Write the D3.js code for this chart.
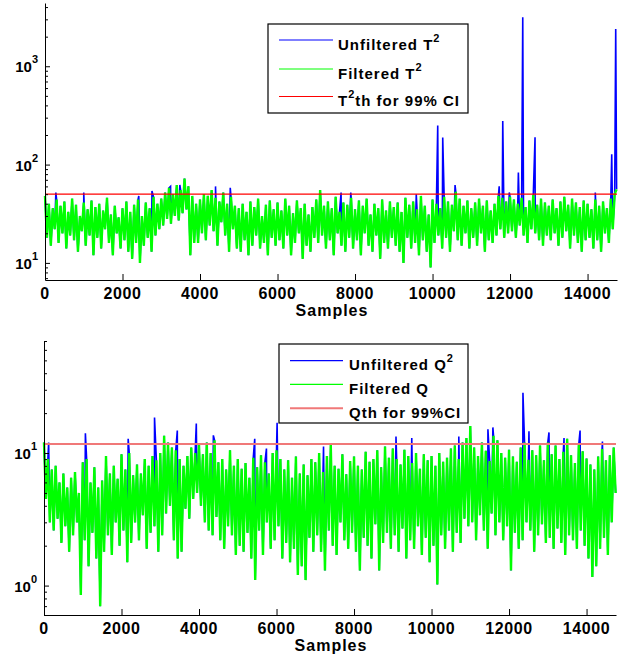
<!DOCTYPE html>
<html>
<head>
<meta charset="utf-8">
<script src="https://cdn.jsdelivr.net/npm/d3@7"></script>
<style>
body { margin: 0; background: #fff; }
text { font-family: "Liberation Sans", Arial, sans-serif; font-weight: bold; fill: #000; }
</style>
</head>
<body>
<svg id="fig" width="624" height="656"></svg>
<script>
// sample spacing of the typed values and length of the record
const step = 50;
const nSamples = 14760;
const xTicks = [0, 2000, 4000, 6000, 8000, 10000, 12000, 14000];

// T2 statistic, filtered (one value every 50 samples)
const t2Filtered = [
48,18,40,15,36,22,44,16,38,20,42,14,33,19,45,17,39,13,30,21,
41,15,35,19,43,12,37,18,40,14,34,22,46,16,31,12,38,20,29,14,
36,17,42,13,33,11,39,16,44,10,30,15,41,18,36,13,47,19,40,22,
45,24,52,28,58,25,50,30,62,27,55,32,72,35,60,12,48,16,40,16,
44,20,50,17,48,24,55,21,46,15,42,26,52,19,40,13,47,22,38,14,
36,13,40,17,33,12,42,15,37,19,45,14,30,16,39,12,43,18,35,15,
41,17,34,14,45,19,38,12,32,16,43,20,36,11,40,15,31,13,37,18,
44,16,55,19,38,14,42,17,36,12,47,20,33,15,41,13,39,18,46,14,
35,17,43,12,38,20,45,15,31,13,40,19,36,11,44,16,34,14,42,18,
37,15,41,13,33,10,46,18,39,14,42,16,35,12,48,17,38,13,31,9,
44,16,40,19,36,14,47,18,42,13,39,21,53,17,45,15,38,20,43,14,
36,18,41,15,45,20,38,13,43,17,34,16,40,19,48,22,46,18,42,20,
47,21,44,18,40,24,46,19,37,16,43,22,49,20,39,17,45,15,41,19,
38,17,44,20,36,15,42,18,47,21,39,14,45,19,41,16,37,13,43,17,
40,18,35,14,44,17,38,13,42,20,36,16,45,22,50,56
];
// where the unfiltered T2 leaves the filtered one: [sample, value]
const t2Spikes = [
[280,52],[1000,52],[2420,48],[2760,54],[3240,60],[3480,62],[4400,60],[4780,58],
[7640,52],[7890,52],[9580,50],[10134,250],[10263,188],[10581,62],[11720,60],
[11812,278],[11980,52],[12215,83],[12328,3150],[12645,190],[14200,52],
[14624,127],[14727,2400]
];
const t2Threshold = 50;
const t2Legend = ['Unfiltered T^2', 'Filtered T^2', 'T^2th for 99% CI'];

// Q statistic, filtered
const qFiltered = [
12,4.5,9,3,7.5,2.6,8,3.2,6,2.1,7,2.8,5.5,1.8,6.5,2.4,7.2,3,5,0.85,
8.5,2.2,9,1.4,6,2.5,7.8,1.6,5.5,0.7,6.2,1.8,9.5,2.4,7,1.7,8,3,6.4,2,
9.8,2.6,7.5,1.5,10,2.1,6.8,3,8.2,2.2,7,3.4,9,1.9,8,2.5,9.5,2.8,8.8,1.8,
10,2.4,13.5,3.5,12,4,11,2.2,10.5,1.6,9,1.8,8,3.8,9.5,3.2,11,4.5,10,5,
11.5,4,9.8,3,12,2.6,10,2.4,12.5,3.3,8.5,2.2,9,1.9,7.5,2.8,10.5,2.4,8,1.7,
9,2,7.6,1.8,8.4,2.5,6.5,1.6,9.2,1.1,7.8,2.6,9.6,1.7,8.5,3,7,1.9,10,2.2,
10.5,2.8,9,1.6,7.5,2.1,8.8,1.5,6.5,1.9,9.4,1.2,7,1.4,8.2,1.1,6.8,2.3,9,1.8,
8.5,2.4,10,1.8,7.2,1.3,9.5,2.6,11.5,2,8,1.7,7.6,3,9.8,2.2,6.9,1.9,8.7,2.5,
9.4,1.8,8,1.3,7.5,2.3,10.2,2,8.6,1.6,9,2.9,10.5,1.3,7.8,2.1,11.2,2.5,9.2,1.9,
10.8,2.4,9,1.8,8.2,2.7,10.6,1.6,9.5,2.2,8.4,1.9,10,2.8,7.6,1.7,9.8,2.3,8.8,1.5,
9.5,2,8,1.02,10,2.4,8.6,1.9,9.2,2.6,10.8,1.8,11.4,2.5,9,2.1,12,3.2,13,2.8,
16,3,11,2.2,9.5,3.4,12,2.6,10.4,1.9,8.7,3.5,13.5,2.4,12.5,3,10,2.2,9.2,2.8,
10.6,1.3,9.4,2.5,8.6,1.9,11,2.2,12,3,8.9,2.6,10.5,1.8,9.6,2.4,11.4,2.9,8.8,2.1,
12,2.3,9.8,1.9,11.4,2.7,9,2.1,10.2,1.7,12.8,2.4,9.6,2.2,8.4,1.9,11.7,2.6,10.3,2,
9.1,1.6,8.2,1.16,7.5,1.4,9.4,1.9,10.7,2.3,8.8,1.7,9.6,3,11,5
];
const qSpikes = [
[120,12],[1068,14.1],[2172,12.8],[2852,18.5],[3440,14.8],[3930,16.7],[4370,13.6],
[5438,12.8],[5740,10.8],[6015,16.9],[7213,11.2],[9083,13.3],[9490,13],[10704,13.3],
[11455,15.1],[11583,15.6],[12359,28.5],[12514,14.6],[13031,14.3],[13419,13],
[13833,14.8],[14410,12.2]
];
const qThreshold = 11.7;
const qLegend = ['Unfiltered Q^2', 'Filtered Q', 'Qth for 99%CI'];

const svg = d3.select('#fig');

// split "T^2th" into normal / superscript pieces
function addRich(sel, str, supSize, supDy) {
  const parts = str.split(/\^(.)/);
  parts.forEach((p, i) => {
    if (!p) return;
    if (i % 2 === 1) {
      sel.append('tspan').attr('font-size', supSize).attr('dy', supDy).text(p);
    } else {
      const t = sel.append('tspan').text(p);
      if (i > 0) t.attr('dy', -supDy);
    }
  });
}

function drawPanel(o) {
  const x = d3.scaleLinear().domain([0, nSamples]).range([o.left, o.right]);
  const y = d3.scaleLog().domain(o.yDomain).range([o.bottom, o.top]);
  const g = svg.append('g');

  const filtered = o.filtered.map((v, i) => [i * step, v]);
  const unfiltered = filtered.concat(o.spikes).sort((a, b) => a[0] - b[0]);

  const line = d3.line().x(d => x(d[0])).y(d => y(d[1]));

  g.append('path').datum(unfiltered)
    .attr('d', line).attr('fill', 'none')
    .attr('stroke', '#0000ff').attr('stroke-width', 1.6);
  g.append('path').datum(filtered)
    .attr('d', line).attr('fill', 'none')
    .attr('stroke', '#00ff00').attr('stroke-width', 2.4)
    .attr('stroke-linejoin', 'miter').attr('stroke-miterlimit', 2);

  g.append('line')
    .attr('x1', x(0)).attr('x2', x(nSamples))
    .attr('y1', y(o.threshold)).attr('y2', y(o.threshold))
    .attr('stroke', o.thColor).attr('stroke-width', o.thWidth);

  // y axis, log ticks pointing inward
  const lo = Math.floor(Math.log10(o.yDomain[0])), hi = Math.ceil(Math.log10(o.yDomain[1]));
  const major = [], minor = [];
  for (let e = lo; e <= hi; e++) {
    for (let k = 1; k <= 9; k++) {
      const v = k * Math.pow(10, e);
      if (v < o.yDomain[0] || v > o.yDomain[1]) continue;
      (k === 1 ? major : minor).push(v);
    }
  }
  g.append('g')
    .attr('transform', `translate(${o.left},0)`)
    .call(d3.axisLeft(y).tickValues(minor).tickSizeInner(-3).tickSizeOuter(0).tickFormat(''))
    .call(a => a.select('.domain').remove());
  g.append('g')
    .attr('transform', `translate(${o.left},0)`)
    .call(d3.axisLeft(y).tickValues(major).tickSizeInner(-5).tickSizeOuter(0).tickFormat(''));

  major.forEach(v => {
    const t = g.append('text')
      .attr('x', o.left - 7).attr('y', y(v) + 6)
      .attr('text-anchor', 'end').attr('font-size', 15);
    t.append('tspan').text('10');
    t.append('tspan').attr('font-size', 11).attr('dy', -9).text(Math.round(Math.log10(v)));
  });

  // x axis
  g.append('g')
    .attr('transform', `translate(0,${o.bottom})`)
    .call(d3.axisBottom(x).tickValues(xTicks).tickSizeInner(-6).tickSizeOuter(0).tickFormat(''));

  xTicks.forEach(v => {
    g.append('text')
      .attr('x', x(v)).attr('y', o.bottom + 19)
      .attr('text-anchor', 'middle').attr('font-size', 16)
      .style('letter-spacing', '0.6px')
      .text(v);
  });
  g.append('text')
    .attr('x', (o.left + o.right) / 2 + 1).attr('y', o.bottom + 36)
    .attr('text-anchor', 'middle').attr('font-size', 16)
    .style('letter-spacing', '1px')
    .text('Samples');

  g.selectAll('.domain, .tick line').attr('stroke', '#000');

  // legend
  const L = o.legend;
  g.append('rect')
    .attr('x', L.x).attr('y', L.y).attr('width', L.w).attr('height', L.h)
    .attr('fill', '#fff').attr('stroke', '#000').attr('stroke-width', 1.2);
  const colors = ['#0000ff', '#00ff00', o.thColor];
  o.labels.forEach((lab, i) => {
    const ly = L.rows[i];
    g.append('line')
      .attr('x1', L.lx1).attr('x2', L.lx2).attr('y1', ly).attr('y2', ly)
      .attr('stroke', colors[i]).attr('stroke-width', i === 2 ? o.thWidth : 1.2);
    const t = g.append('text')
      .attr('x', L.tx).attr('y', ly + 9.5)
      .attr('font-size', 15).style('letter-spacing', '1px');
    addRich(t, lab, 11, -8);
  });
}

drawPanel({
  left: 45, right: 617, top: 3, bottom: 280,
  yDomain: [6.7, 4400],
  filtered: t2Filtered, spikes: t2Spikes,
  threshold: t2Threshold, thColor: '#ff0000', thWidth: 1.2,
  labels: t2Legend,
  legend: { x: 268, y: 24, w: 200, h: 89, lx1: 279, lx2: 333, tx: 338, rows: [40, 69, 96.5] }
});

drawPanel({
  left: 44, right: 616, top: 341, bottom: 615,
  yDomain: [0.6, 70],
  filtered: qFiltered, spikes: qSpikes,
  threshold: qThreshold, thColor: '#f07878', thWidth: 2,
  labels: qLegend,
  legend: { x: 279, y: 344, w: 189, h: 79, lx1: 290, lx2: 343, tx: 349, rows: [360.7, 384.3, 408.3] }
});
</script>
</body>
</html>
